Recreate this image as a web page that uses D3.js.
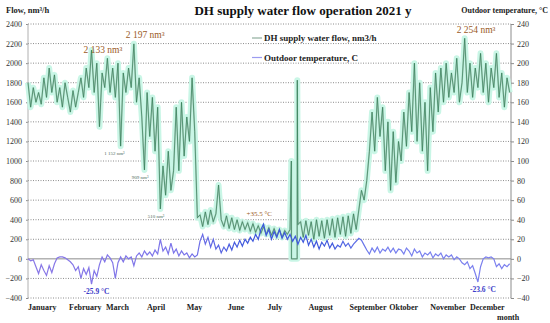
<!DOCTYPE html>
<meta charset="utf-8">
<style>
  body { margin: 0; background: #fff; }
  text { font-family: "Liberation Serif", "DejaVu Serif", serif; }
  .grid line { stroke: #8c8c8c; stroke-dasharray: 1,1.5; }
  .axis path, .axis line { stroke: #8c8c8c; }
  .axis text { font-size: 8px; fill: #333; }
  .month { font-size: 8px; font-weight: bold; fill: #222; }
  .note { font-size: 9.5px; fill: #9a5a26; }
  .small { font-size: 5px; fill: #4d6b5a; }
  .tnote { font-size: 7.5px; font-weight: bold; fill: #3b3bc8; }
  .hot { font-size: 7px; fill: #9a5a26; }
</style>
<svg id="chart" width="550" height="323"></svg>
<script src="https://cdn.jsdelivr.net/npm/d3@7"></script>
<script>

// flow, nm3/h  [day of year, value]
const flow = [
  [0,1800],[2,1550],[4,1750],[6,1600],[8,1700],[10,1580],[12,1850],[14,1650],[16,1950],[18,1700],
  [20,1880],[22,1600],[24,1750],[26,1550],[28,1800],[30,1650],[32,1500],[34,1720],[36,1550],[38,1700],
  [40,1850],[42,1650],[44,1950],[46,1750],[48,2133],[50,1700],[52,2000],[54,1350],[56,1900],[58,1750],
  [60,2050],[62,1700],[64,1950],[66,1650],[68,2000],[70,1152],[72,1900],[74,1700],[76,1950],[78,1750],
  [80,2197],[82,1600],[84,1850],[86,1450],[88,909],[90,1700],[92,1250],[94,1650],[96,1100],[98,1550],
  [100,510],[102,950],[104,650],[106,1100],[108,700],[110,900],[112,1550],[114,900],[116,1600],[118,1050],
  [120,1450],[122,1200],[124,1850],[126,1300],[128,420],[130,450],[132,330],[134,480],[136,350],[138,500],
  [140,380],[142,460],[144,755],[146,400],[148,330],[150,440],[152,310],[154,420],[156,300],[158,400],
  [160,290],[162,380],[164,300],[166,370],[168,280],[170,360],[172,270],[174,340],[176,260],[178,330],
  [180,250],[182,320],[184,240],[186,310],[188,230],[190,300],[192,220],[194,290],[196,250],[198,300],
  [199,1000],[199.1,0],[203.4,0],[203.5,1826],[204,350],
  [206,380],[208,220],[210,390],[212,240],[214,380],[216,200],[218,400],[220,230],[222,390],[224,210],
  [226,400],[228,240],[230,410],[232,220],[234,420],[236,250],[238,430],[240,230],[242,440],[244,260],
  [246,460],[248,300],[250,500],[252,700],[254,600],[256,800],[258,1100],[260,1500],[262,1100],[264,1650],
  [266,1250],[268,1550],[270,900],[272,1400],[274,700],[276,1300],[278,780],[280,1200],[282,1000],[284,1500],
  [286,1150],[288,1700],[290,1300],[292,2000],[294,1200],[296,1800],[298,1100],[300,1600],[302,900],[304,1750],
  [306,1300],[308,1900],[310,1500],[312,1950],[314,1600],[316,2000],[318,1650],[320,1900],[322,1700],[324,2050],
  [326,1600],[328,1800],[330,2254],[332,1700],[334,2000],[336,1650],[338,1950],[340,1750],[342,2100],[344,1700],
  [346,2000],[348,1600],[350,1950],[352,1750],[354,2100],[356,1650],[358,1900],[360,1550],[362,1850],[364,1700]
];

// outdoor temperature, C  [day of year, value]
const temp = [
  [0,0],[2,-2],[4,-1],[6,-8],[8,-15],[10,-6],[12,-12],[14,-17],[16,-7],[18,-14],
  [20,-5],[22,1],[24,2],[26,2],[28,1],[30,-1],[32,-3],[34,-6],[36,-12],[38,-8],
  [40,-20],[42,-10],[44,-16],[46,-9],[48,-25.9],[50,-12],[52,-18],[54,-6],[56,2],[58,-3],
  [60,4],[62,1],[64,-4],[66,-20],[68,-4],[70,2],[72,-3],[74,3],[76,0],[78,2],
  [80,-7],[82,3],[84,6],[86,2],[88,8],[90,4],[92,7],[94,3],[96,9],[98,5],
  [100,20],[102,8],[104,12],[106,5],[108,16],[110,6],[112,10],[114,3],[116,8],[118,4],
  [120,6],[122,1],[124,5],[126,2],[128,4],[130,18],[132,25],[134,15],[136,22],[138,12],
  [140,20],[142,10],[144,14],[146,6],[148,12],[150,8],[152,15],[154,9],[156,17],[158,12],
  [160,19],[162,13],[164,20],[166,16],[168,22],[170,18],[172,25],[174,20],[176,30],[178,35.5],
  [180,24],[182,30],[184,20],[186,28],[188,22],[190,30],[192,21],[194,27],[196,20],[198,25],
  [200,18],[202,23],[204,15],[206,22],[208,17],[210,24],[212,14],[214,20],[216,12],[218,18],
  [220,10],[222,17],[224,13],[226,19],[228,11],[230,16],[232,10],[234,14],[236,12],[238,18],
  [240,13],[242,16],[244,11],[246,15],[248,18],[250,21],[252,19],[254,14],[256,9],[258,5],
  [260,11],[262,7],[264,12],[266,6],[268,10],[270,8],[272,12],[274,7],[276,11],[278,6],
  [280,10],[282,9],[284,5],[286,11],[288,8],[290,3],[292,10],[294,6],[296,8],[298,2],
  [300,6],[302,4],[304,7],[306,1],[308,5],[310,3],[312,6],[314,0],[316,4],[318,2],
  [320,4],[322,-1],[324,2],[326,0],[328,-4],[330,-6],[332,-3],[334,-10],[336,-7],[338,-15],
  [340,-23.6],[342,-8],[344,0],[346,2],[348,1],[350,2],[352,0],[354,-8],[356,-5],[358,-10],
  [360,-6],[362,-8],[364,-5]
];

const months = ["January","February","March","April","May","June","July","August","September","Oktober","November","December"];
const flowTicks = d3.range(-400, 2401, 200);
const tempTicks = d3.range(-40, 241, 20);

// [day, value, label, class]
const flowNotes = [
  [48, 2133, "2 133 nm³", "note"],
  [80, 2197, "2 197 nm³", "note"],
  [330, 2254, "2 254 nm³", "note"],
  [70, 1152, "1 152 nm³", "small"],
  [88, 909, "909 nm³", "small"],
  [100, 510, "510 nm³", "small"]
];
const tempNotes = [
  [48, -25.9, "-25.9 °C", "tnote"],
  [340, -23.6, "-23.6 °C", "tnote"],
  [178, 35.5, "+35.5 °C", "hot"]
];

const svg = d3.select("#chart");

const x = d3.scaleLinear().domain([0, 365]).range([28, 511]);
const y = d3.scaleLinear().domain([-400, 2400]).range([298, 24]);
const yT = d3.scaleLinear().domain([-40, 240]).range([298, 24]);

//grid
svg.append("g").attr("class", "grid")
  .selectAll("line").data(flowTicks.filter(d => d !== 0)).join("line")
    .attr("x1", x(0)).attr("x2", x(365))
    .attr("y1", d => y(d)).attr("y2", d => y(d));
svg.append("line")
  .attr("x1", x(0)).attr("x2", x(365)).attr("y1", y(0)).attr("y2", y(0))
  .attr("stroke", "#8c8c8c");

//axes
svg.append("g").attr("class", "axis")
  .attr("transform", `translate(${x(0)},0)`)
  .call(d3.axisLeft(y).tickValues(flowTicks).tickSize(2).tickPadding(4).tickFormat(d3.format("d")))
  .call(g => g.select(".domain").remove());
svg.append("line").attr("x1", x(0)).attr("x2", x(0)).attr("y1", y(2400)).attr("y2", y(-400))
  .attr("stroke", "#b0b0b0");

svg.append("g").attr("class", "axis")
  .attr("transform", `translate(${x(365)},0)`)
  .call(d3.axisRight(yT).tickValues(tempTicks).tickSize(3).tickPadding(3))
  .call(g => g.select(".domain").attr("d", `M0,${yT(240)}V${yT(-40)}`));

//temperature colour: lighter in winter, deeper blue in summer
const grad = svg.append("defs").append("linearGradient")
  .attr("id", "tempGrad").attr("gradientUnits", "userSpaceOnUse")
  .attr("x1", x(0)).attr("x2", x(365)).attr("y1", 0).attr("y2", 0);
grad.selectAll("stop")
  .data([[0, "#8a78e6"], [0.33, "#7a74ea"], [0.45, "#3e58dc"], [0.62, "#3e58dc"], [0.72, "#7680ee"], [1, "#7d80ee"]])
  .join("stop").attr("offset", d => d[0]).attr("stop-color", d => d[1]);

//flow
const flowLine = d3.line().x(d => x(d[0])).y(d => y(d[1]));
svg.append("path").datum(flow)
  .attr("d", flowLine)
  .attr("fill", "none").attr("stroke", "#c9f6e6").attr("stroke-width", 6)
  .attr("stroke-linejoin", "round");
svg.append("path").datum(flow)
  .attr("d", flowLine)
  .attr("fill", "none").attr("stroke", "#9cb8a8").attr("stroke-width", 1.6).attr("opacity", 0.6);
svg.append("path").datum(flow)
  .attr("d", flowLine)
  .attr("fill", "none").attr("stroke", "#2f7d55").attr("stroke-width", 0.7);

//temperature
const tempLine = d3.line().x(d => x(d[0])).y(d => yT(d[1]));
svg.append("path").datum(temp)
  .attr("d", tempLine)
  .attr("fill", "none").attr("stroke", "url(#tempGrad)").attr("stroke-width", 1.2);

//months
svg.append("g").selectAll("text").data(months).join("text")
  .attr("class", "month")
  .attr("x", (d, i) => x(d3.timeDay.count(new Date(2021, 0, 1), new Date(2021, i, 1))))
  .attr("y", 310)
  .text(d => d);
svg.append("text").attr("class", "month").attr("x", 497).attr("y", 320).text("month");

//notes
const noteDy = [3, -6, -5, 9, 9, 9];
svg.append("g").selectAll("text").data(flowNotes).join("text")
  .attr("class", d => d[3])
  .attr("x", d => x(d[0]))
  .attr("y", (d, i) => y(d[1]) + noteDy[i])
  .attr("text-anchor", d => d[3] === "note" ? "start" : "end")
  .attr("dx", d => d[3] === "note" ? -8 : 4)
  .text(d => d[2]);
svg.append("g").selectAll("text").data(tempNotes).join("text")
  .attr("class", d => d[3])
  .attr("x", d => x(d[0]))
  .attr("y", d => d[1] < 0 ? yT(d[1]) + 10 : yT(d[1]) - 8)
  .attr("dx", d => d[1] < 0 ? -8 : -17)
  .text(d => d[2]);

//titles
svg.append("text").attr("x", 303).attr("y", 15).attr("text-anchor", "middle")
  .attr("font-size", "13px").attr("font-weight", "bold").attr("fill", "#111")
  .text("DH supply water flow operation 2021 y");
svg.append("text").attr("x", 6).attr("y", 13)
  .attr("font-size", "8.5px").attr("font-weight", "bold").attr("fill", "#222")
  .text("Flow, nm³/h");
svg.append("text").attr("x", 548).attr("y", 13).attr("text-anchor", "end")
  .attr("font-size", "8px").attr("font-weight", "bold").attr("fill", "#222")
  .text("Outdoor temperature, °C");

//legend
const legend = [["DH supply water flow, nm3/h", "#8fae9c"], ["Outdoor temperature, C", "#9c9cf0"]];
const lg = svg.append("g").selectAll("g").data(legend).join("g")
  .attr("transform", (d, i) => `translate(252,${38 + i * 19.5})`);
lg.append("line").attr("x1", 0).attr("x2", 10).attr("stroke", d => d[1]).attr("stroke-width", 1.2);
lg.append("text").attr("x", 12).attr("y", 3)
  .attr("font-size", "9px").attr("font-weight", "bold").attr("fill", "#222")
  .text(d => d[0]);

</script>
